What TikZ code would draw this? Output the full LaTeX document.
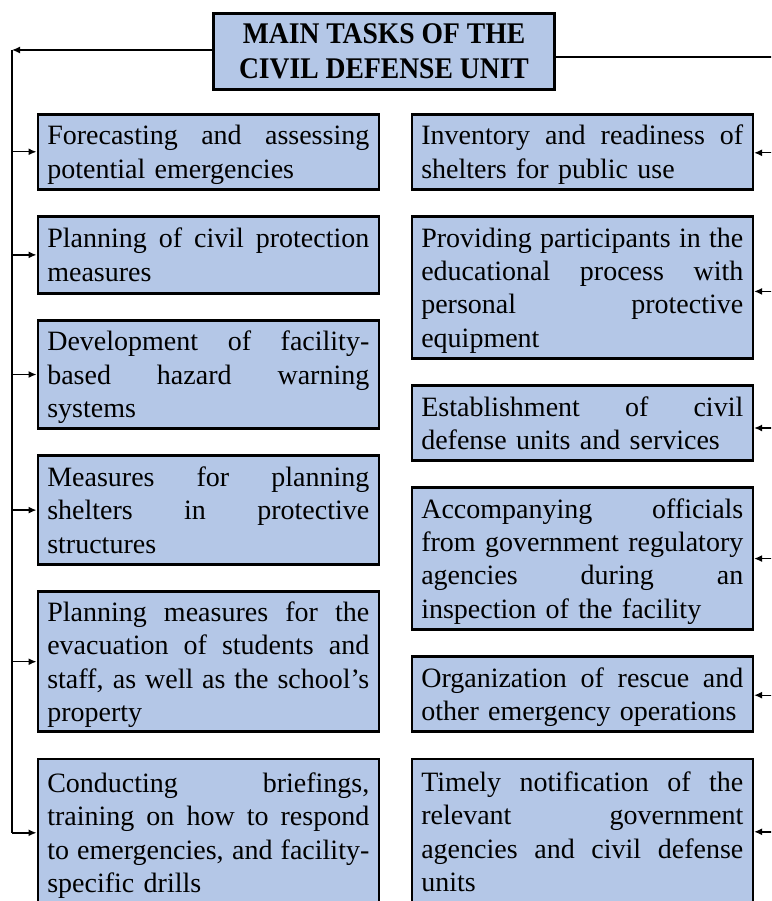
\documentclass[tikz,border=0pt]{standalone}
\usepackage{fontspec}
\setmainfont{Liberation Serif}
\newfontfamily\headfont[FakeStretch=0.92]{Liberation Serif}
\usepackage{xcolor}
\usepackage{tikz}
\usetikzlibrary{arrows.meta, positioning}

\definecolor{boxblue}{HTML}{B4C7E7}
\newcommand{\tstrut}{\rule[-7pt]{0pt}{33.3pt}}
% one justified line, spaces stretched to the full width
\newcommand{\jl}[1]{\leavevmode\hbox to 322pt{\spaceskip=0.25em plus 1fil\relax\tstrut #1}}

\tikzset{
    task/.style={draw, line width=2.6pt, fill=boxblue, text width=322pt,
        inner xsep=9.5pt, inner ysep=0pt, align=left,
        font=\fontsize{28}{33.3}\selectfont},
    two/.style={minimum height=75pt},
    four/.style={minimum height=142pt},
    link/.style={line width=1.4pt, -{Latex[length=8pt,width=7pt]}}
}

\begin{document}
\begin{tikzpicture}[x=1pt, y=1pt, node distance=24.5pt]
    \useasboundingbox (0,0) rectangle (771,-901);
    \clip (0,0) rectangle (771,-901);

    \node (main) [draw, line width=2.6pt, fill=boxblue, minimum width=341pt,
        minimum height=76pt, align=center,
        font=\headfont\bfseries\fontsize{30}{35}\selectfont]
        at (384,-51.5) {MAIN TASKS OF THE\\CIVIL DEFENSE UNIT};

    % left column
    \node (l1) [task, two, anchor=north west] at (36.5,-113)
        {\jl{Forecasting and assessing}\\\tstrut potential emergencies};
    \node (l2) [task, minimum height=77pt, below=of l1]
        {\jl{Planning of civil protection}\\\tstrut measures};
    \node (l3) [task, minimum height=108pt, below=of l2]
        {\jl{Development of facility-}\\\jl{based hazard warning}\\\tstrut systems};
    \node (l4) [task, minimum height=109pt, below=of l3]
        {\jl{Measures for planning}\\\jl{shelters in protective}\\\tstrut structures};
    \node (l5) [task, minimum height=140pt, below=of l4]
        {\jl{Planning measures for the}\\\jl{evacuation of students and}\\\jl{staff, as well as the school’s}\\\tstrut property};
    \node (l6) [task, minimum height=148pt, below=of l5]
        {\jl{Conducting briefings,}\\\jl{training on how to respond}\\\jl{to emergencies, and facility-}\\\tstrut specific drills};

    % right column
    \node (r1) [task, two, anchor=north west] at (410.5,-113)
        {\jl{Inventory and readiness of}\\\tstrut shelters for public use};
    \node (r2) [task, four, below=of r1]
        {\jl{Providing participants in the}\\\jl{educational process with}\\\jl{personal protective}\\\tstrut equipment};
    \node (r3) [task, two, below=of r2]
        {\jl{Establishment of civil}\\\tstrut defense units and services};
    \node (r4) [task, four, below=of r3]
        {\jl{Accompanying officials}\\\jl{from government regulatory}\\\jl{agencies during an}\\\tstrut inspection of the facility};
    \node (r5) [task, two, below=of r4]
        {\jl{Organization of rescue and}\\\tstrut other emergency operations};
    \node (r6) [task, minimum height=146pt, below=of r5]
        {\jl{Timely notification of the}\\\jl{relevant government}\\\jl{agencies and civil defense}\\\tstrut units};

    % connectors
    \coordinate (lt) at (12,-50);
    \coordinate (rt) at (790,-57);
    \draw [link] (main.west |- lt) -- (lt);
    \draw [line width=1.4pt] (lt) -- (lt |- l6.west);
    \foreach \n in {l1,l2,l3,l4,l5,l6}
        \draw [link] (lt |- \n.west) -- (\n.west);
    \draw [line width=1.4pt] (main.east |- rt) -- (rt) -- (rt |- r6.east);
    \foreach \n/\s in {r1/-1,r2/-4,r3/-5,r4/0,r5/-1,r6/0}
        \draw [link] ([yshift=\s pt]rt |- \n.east) -- ([yshift=\s pt]\n.east);
\end{tikzpicture}
\end{document}
